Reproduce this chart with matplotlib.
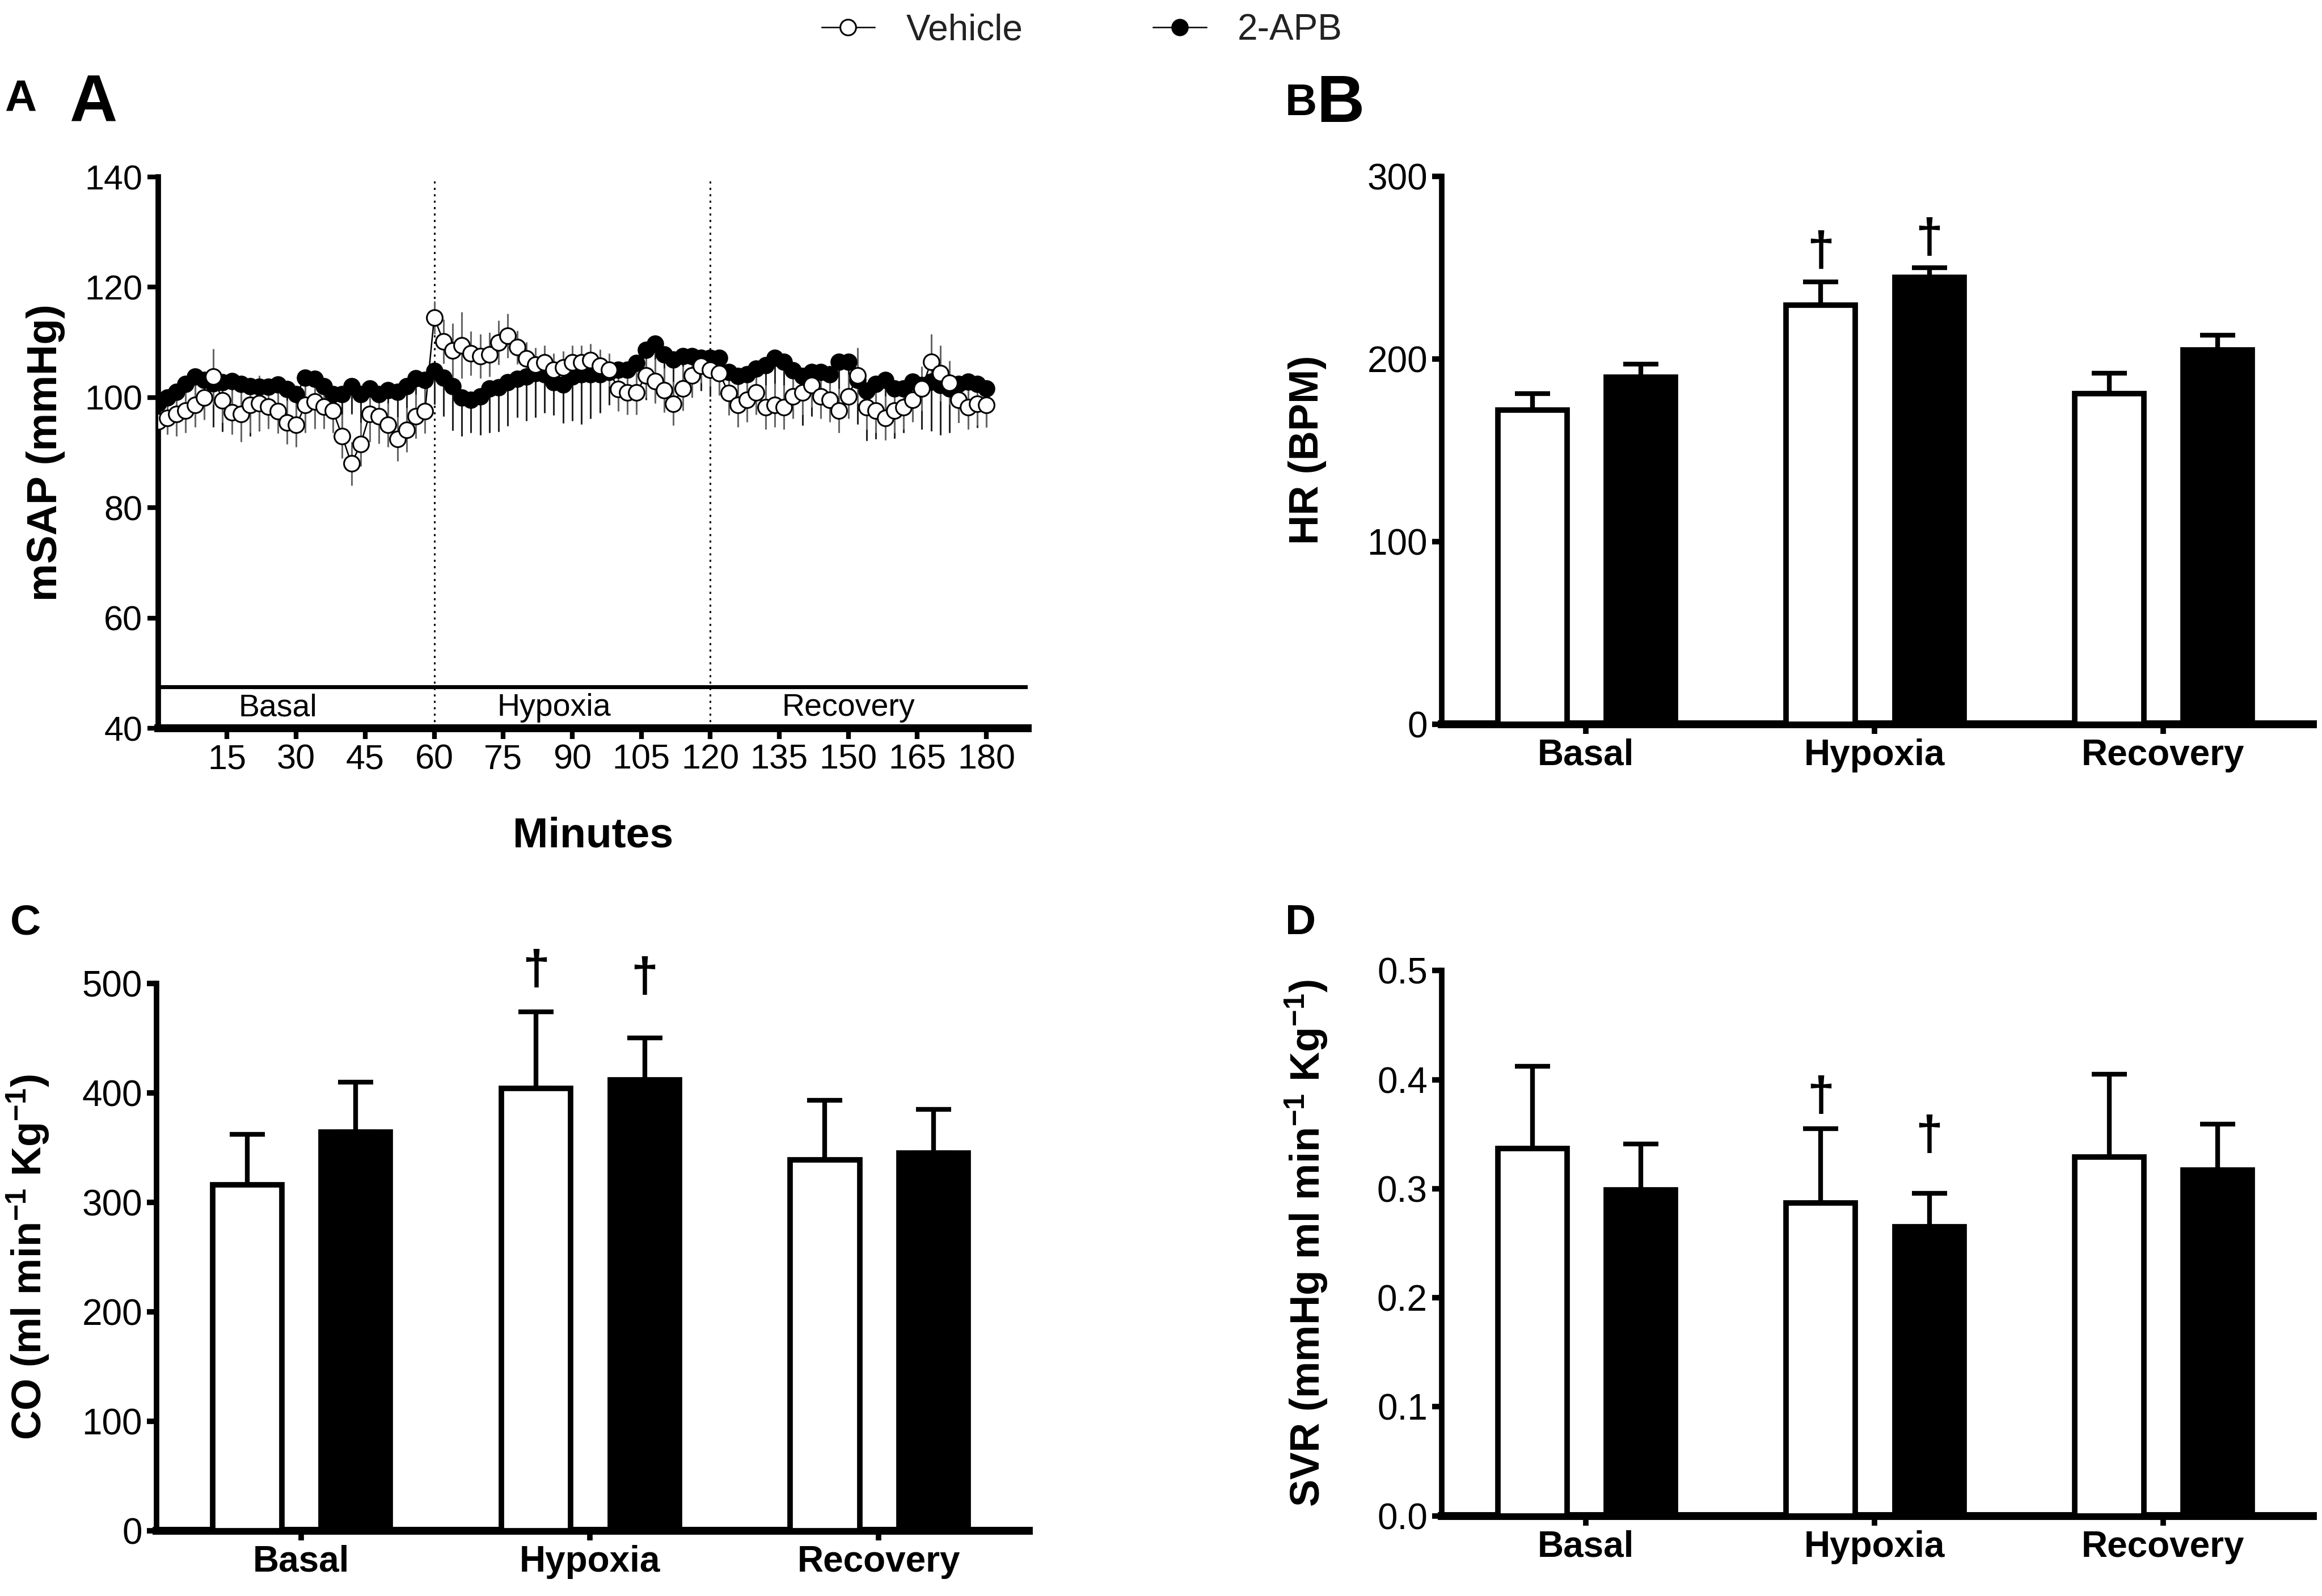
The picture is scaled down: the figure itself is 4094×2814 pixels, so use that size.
import numpy as np
import matplotlib
matplotlib.use('Agg')
import matplotlib.pyplot as plt
from matplotlib.lines import Line2D

# ---- panel A: mean systemic arterial pressure, one point every 2 min ----
minutes = np.arange(0, 181, 2)

vehicle_sap = [
    95.7, 96.3, 97.0, 97.6, 98.6, 100.0, 103.8, 99.5, 97.3, 97.0,
    98.6, 99.0, 98.3, 97.5, 95.5, 95.0, 98.6, 99.3, 98.3, 97.6,
    93.0, 88.0, 91.5, 97.0, 96.6, 95.0, 92.5, 94.1, 96.6, 97.5,
    114.5, 110.2, 108.5, 109.5, 108.0, 107.5, 107.8, 110.0, 111.2, 109.1,
    107.1, 106.0, 106.4, 105.0, 105.4, 106.4, 106.4, 106.8, 105.7, 105.0,
    101.5, 100.9, 100.9, 104.0, 103.0, 101.3, 98.9, 101.6, 104.0, 105.7,
    105.0, 104.4, 100.8, 98.6, 99.6, 100.9, 98.2, 98.6, 98.2, 100.2,
    100.9, 102.2, 100.2, 99.6, 97.6, 100.2, 104.0, 98.2, 97.6, 96.3,
    97.6, 98.2, 99.6, 101.6, 106.5, 104.4, 102.7, 99.6, 98.2, 98.9,
    98.6,
]
vehicle_sem = [
    3, 3, 4, 4, 4, 4, 5, 4, 4, 5,
    5, 5, 4, 4, 4, 4, 5, 5, 4, 4,
    4, 4, 4, 5, 5, 4, 4, 4, 4, 4,
    3, 4, 5, 6, 4, 4, 4, 4, 4, 3,
    3, 3, 3, 3, 3, 3, 3, 3, 3, 3,
    4, 4, 4, 4, 4, 4, 4, 4, 4, 3,
    3, 4, 4, 4, 4, 4, 4, 4, 4, 4,
    4, 4, 4, 4, 4, 4, 5, 4, 4, 4,
    4, 4, 4, 4, 5, 5, 4, 4, 4, 4,
    4,
]
apb_sap = [
    99.0, 100.0, 101.0, 102.5, 103.8, 103.2, 102.6, 102.8, 103.0, 102.5,
    102.0, 101.9, 101.9, 102.4, 101.5, 100.6, 103.6, 103.4, 102.0, 100.6,
    100.6, 102.0, 100.6, 101.6, 100.6, 101.3, 101.0, 102.0, 103.5, 103.2,
    104.8, 103.6, 102.0, 100.0, 99.6, 100.2, 101.6, 101.8, 102.8, 103.4,
    103.8, 104.4, 104.2, 102.8, 102.4, 103.8, 104.2, 104.2, 104.2, 104.6,
    105.0, 105.0, 106.3, 108.6, 109.8, 107.8, 106.9, 107.5, 107.5, 107.2,
    107.2, 107.2, 104.6, 103.9, 104.2, 105.2, 105.9, 107.2, 106.5, 104.9,
    103.9, 104.6, 104.6, 104.2, 106.5, 106.5, 103.2, 101.2, 102.5, 103.2,
    101.6, 101.6, 102.9, 102.2, 102.9, 102.2, 101.6, 102.5, 102.9, 102.5,
    101.6,
]
apb_sem = [
    5, 6, 6, 7, 8, 7, 8, 9, 8, 7,
    9, 8, 7, 6, 7, 8, 9, 8, 7, 6,
    6, 5, 7, 6, 7, 6, 5, 6, 7, 8,
    6, 7, 8, 7, 6, 7, 8, 8, 8, 7,
    8, 8, 7, 6, 7, 8, 9, 8, 7, 6,
    7, 6, 8, 9, 10, 8, 7, 6, 7, 6,
    7, 6, 5, 6, 7, 8, 7, 6, 7, 8,
    9, 8, 7, 8, 7, 6, 8, 9, 10, 8,
    9, 8, 7, 8, 9, 9, 8, 7, 8, 8,
    7,
]

phases = ['Basal', 'Hypoxia', 'Recovery']
phase_mid = [26, 86, 150]

# ---- panels B-D: group means with SEM ----
hr_vehicle = [172, 229.5, 181]
hr_vehicle_err = [9, 12.5, 11]
hr_apb = [190, 244.5, 205]
hr_apb_err = [7, 5.5, 8]

co_vehicle = [316, 404, 339]
co_vehicle_err = [46, 70, 54]
co_apb = [364, 412, 345]
co_apb_err = [46, 38, 40]

svr_vehicle = [0.337, 0.287, 0.329]
svr_vehicle_err = [0.075, 0.068, 0.076]
svr_apb = [0.299, 0.265, 0.317]
svr_apb_err = [0.042, 0.031, 0.042]

# dagger positions (vehicle, 2-APB) above the hypoxia bars
dagger_hr = (258, 265)
dagger_co = (511, 504)
dagger_svr = (0.383, 0.347)

narrow = ['Liberation Sans Narrow', 'Liberation Sans', 'DejaVu Sans']
wide = ['Liberation Sans', 'DejaVu Sans']
plt.rcParams['font.family'] = narrow
plt.rcParams['mathtext.default'] = 'regular'

fig = plt.figure(figsize=(40.94, 28.14), dpi=100)
axA = fig.add_axes([0.0681, 0.5437, 0.3745, 0.3454])
axB = fig.add_axes([0.6209, 0.5463, 0.3752, 0.3433])
axC = fig.add_axes([0.0674, 0.0409, 0.3757, 0.3429])
axD = fig.add_axes([0.6209, 0.0502, 0.3752, 0.3417])


def style_axes(ax):
    for s in ['top', 'right']:
        ax.spines[s].set_visible(False)
    ax.spines['left'].set_linewidth(7)
    ax.spines['bottom'].set_linewidth(10)


# ---- A ----
zeros = np.zeros(len(minutes))
axA.errorbar(minutes, apb_sap, yerr=[apb_sem, zeros], fmt='none',
             ecolor='#222222', elinewidth=2.2, capsize=0, zorder=2)
axA.errorbar(minutes, vehicle_sap, yerr=vehicle_sem, fmt='none',
             ecolor='#666666', elinewidth=2.2, capsize=0, zorder=2)
axA.plot(minutes, apb_sap, '-o', color='black', ms=21, lw=1.8, zorder=3)
axA.plot(minutes, vehicle_sap, '-o', color='black', mfc='white',
         mec='black', mew=2.2, ms=20, lw=1.8, zorder=4)

style_axes(axA)
axA.set_xlim(0, 189)
axA.set_ylim(40, 140)
axA.set_xticks(np.arange(15, 181, 15))
axA.set_yticks(np.arange(40, 141, 20))
axA.tick_params(length=14, width=6, labelsize=44, pad=6)
axA.axhline(47.5, color='black', lw=5, zorder=5)
for t in [60, 120]:
    axA.axvline(t, color='black', lw=2.2, ls=(0, (1.2, 2.5)), zorder=1)
for name, t in zip(phases, phase_mid):
    axA.text(t, 43.7, name, ha='center', va='center', fontsize=40)
axA.set_xlabel('Minutes', fontsize=54, fontweight='bold', family=wide)
axA.xaxis.set_label_coords(0.5, -0.16)
axA.set_ylabel('mSAP (mmHg)', fontsize=54, fontweight='bold', family=wide)
axA.yaxis.set_label_coords(-0.107, 0.5)


# ---- B, C, D ----
def bar_panel(ax, veh, veh_err, apb, apb_err, top, step, ylabel, label_x,
              daggers, fmt):
    x = np.arange(len(phases))
    xv = x - 0.186
    xa = x + 0.19
    ax.bar(xv, veh, width=0.24, color='white', edgecolor='black',
           linewidth=7, zorder=3)
    ax.bar(xa, apb, width=0.24, color='black', edgecolor='black',
           linewidth=7, zorder=3)
    ax.errorbar(xv, veh, yerr=[np.zeros(3), veh_err], fmt='none',
                ecolor='black', elinewidth=6, capsize=22, capthick=6, zorder=2)
    ax.errorbar(xa, apb, yerr=[np.zeros(3), apb_err], fmt='none',
                ecolor='black', elinewidth=6, capsize=22, capthick=6, zorder=2)
    ax.text(xv[1], daggers[0], '\u2020', ha='center', va='center',
            fontsize=62, fontweight='bold', family=wide)
    ax.text(xa[1], daggers[1], '\u2020', ha='center', va='center',
            fontsize=62, fontweight='bold', family=wide)

    style_axes(ax)
    ax.set_xlim(-0.5, 2.52)
    ax.set_ylim(0, top)
    ticks = np.arange(0, top + step / 2, step)
    ax.set_yticks(ticks)
    ax.set_yticklabels([fmt.format(v) for v in ticks])
    ax.set_xticks(x)
    ax.set_xticklabels(phases, fontweight='bold')
    ax.tick_params(length=12, width=7, labelsize=46, pad=6)
    ax.set_ylabel(ylabel, fontsize=52, fontweight='bold', family=wide)
    ax.yaxis.set_label_coords(label_x, 0.5)


bar_panel(axB, hr_vehicle, hr_vehicle_err, hr_apb, hr_apb_err, 300, 100,
          'HR (BPM)', -0.132, dagger_hr, '{:.0f}')
bar_panel(axC, co_vehicle, co_vehicle_err, co_apb, co_apb_err, 500, 100,
          'CO (ml min$^{-1}$ Kg$^{-1}$)', -0.120, dagger_co, '{:.0f}')
bar_panel(axD, svr_vehicle, svr_vehicle_err, svr_apb, svr_apb_err, 0.5, 0.1,
          'SVR (mmHg ml min$^{-1}$ Kg$^{-1}$)', -0.128, dagger_svr, '{:.1f}')

# ---- legend and panel letters ----
handles = [
    Line2D([], [], color='black', marker='o', mfc='white', mec='black',
           mew=2.2, ms=20, lw=1.8),
    Line2D([], [], color='black', marker='o', ms=21, lw=1.8),
]
fig.legend(handles, ['Vehicle', '2-APB'], loc='center',
           bbox_to_anchor=(0.466, 0.981), ncol=2, frameon=False,
           prop={'family': wide, 'size': 46}, labelcolor='#222222',
           handlelength=1.46, handletextpad=0.87, columnspacing=3.6)

fig.text(0.002, 0.9307, 'A', fontsize=56, fontweight='bold', family=wide)
fig.text(0.0298, 0.9243, 'A', fontsize=84, fontweight='bold', family=wide)
fig.text(0.5535, 0.9279, 'B', fontsize=56, fontweight='bold', family=wide)
fig.text(0.5669, 0.9236, 'B', fontsize=84, fontweight='bold', family=wide)
fig.text(0.0044, 0.4147, 'C', fontsize=54, fontweight='bold', family=wide)
fig.text(0.5535, 0.4147, 'D', fontsize=54, fontweight='bold', family=wide)

fig.savefig('out.png', dpi=100)
